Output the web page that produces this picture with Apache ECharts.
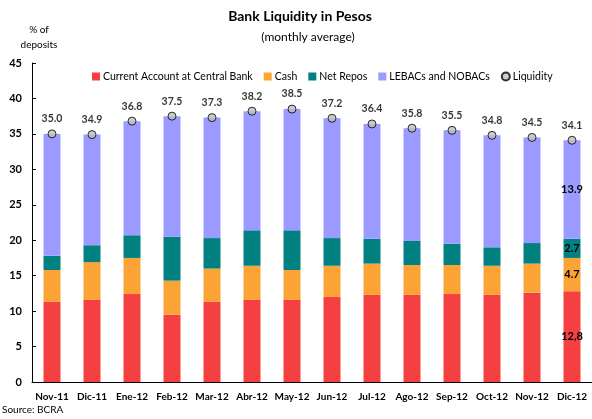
<!DOCTYPE html>
<html>
<head>
<meta charset="utf-8">
<script src="https://cdn.jsdelivr.net/npm/echarts@6/dist/echarts.min.js"></script>
<style>html,body{margin:0;padding:0;background:#fff}#c{width:592px;height:419px}</style>
</head>
<body>
<div id="c"></div>
<script>
const categories = ['Nov-11','Dic-11','Ene-12','Feb-12','Mar-12','Abr-12','May-12','Jun-12','Jul-12','Ago-12','Sep-12','Oct-12','Nov-12','Dic-12'];
const currentAccount = [11.3,11.6,12.4,9.5,11.3,11.6,11.6,12.0,12.3,12.3,12.4,12.3,12.6,12.8];
const cash = [4.5,5.3,5.1,4.8,4.7,4.8,4.2,4.4,4.4,4.2,4.1,4.1,4.1,4.7];
const netRepos = [2.0,2.4,3.2,6.2,4.3,5.0,5.6,3.9,3.5,3.4,3.0,2.6,2.9,2.7];
const lebacs = [17.2,15.6,16.1,17.0,17.0,16.8,17.1,16.9,16.2,15.9,16.0,15.8,14.9,13.9];
const liquidity = [35.0,34.9,36.8,37.5,37.3,38.2,38.5,37.2,36.4,35.8,35.5,34.8,34.5,34.1];
const yTicks = [0,5,10,15,20,25,30,35,40,45];

const FONT = 'Lato';
const last = categories.length - 1;
function lastLabel(fmt) {
  return {
    show: true,
    position: 'inside',
    fontFamily: FONT, fontWeight: 'bold', fontSize: 11, color: '#000',
    formatter: p => p.dataIndex === last ? fmt(p.value) : ''
  };
}
const chart = echarts.init(document.getElementById('c'));
chart.setOption({
  animation: false,
  textStyle: { fontFamily: FONT },
  graphic: [
    { type: 'text', x: 300, y: 9, style: { text: 'Bank Liquidity in Pesos', font: 'bold 14px ' + FONT, fill: '#000', align: 'center', textAlign: 'center' } },
    { type: 'text', x: 308, y: 31, style: { text: '(monthly average)', font: '12px ' + FONT, fill: '#000', align: 'center', textAlign: 'center' } },
    { type: 'text', x: 39, y: 22, style: { text: '% of\ndeposits', font: '10px ' + FONT, fill: '#000', align: 'center', textAlign: 'center', lineHeight: 15 } },
    { type: 'text', x: 2, y: 405, style: { text: 'Source: BCRA', font: '10px ' + FONT, fill: '#000' } }
  ],
  legend: {
    top: 66, left: 87,
    itemWidth: 8, itemHeight: 8, itemGap: 11,
    textStyle: { fontFamily: FONT, fontSize: 10.5, color: '#000', padding: [0,0,0,-2] },
    data: [
      { name: 'Current Account at Central Bank', icon: 'rect' },
      { name: 'Cash', icon: 'rect' },
      { name: 'Net Repos', icon: 'rect' },
      { name: 'LEBACs and NOBACs', icon: 'rect' },
      { name: 'Liquidity', icon: 'circle' }
    ]
  },
  grid: { left: 32, top: 63, width: 564, height: 319 },
  xAxis: {
    type: 'category', data: categories,
    axisLine: { lineStyle: { color: '#000', width: 1 } },
    axisTick: { inside: true, length: 5, lineStyle: { color: '#000' } },
    axisLabel: { fontFamily: FONT, fontWeight: 'bold', fontSize: 10, color: '#000', margin: 10, interval: 0 }
  },
  yAxis: {
    type: 'value', min: 0, max: 45, interval: 5,
    splitLine: { show: false },
    axisLine: { show: true, lineStyle: { color: '#000', width: 1 } },
    axisTick: { show: true, inside: true, length: 4, lineStyle: { color: '#000' } },
    axisLabel: { fontFamily: FONT, fontWeight: 'bold', fontSize: 11, color: '#000', margin: 10,
      formatter: v => yTicks.includes(v) ? String(v) : '' }
  },
  series: [
    { name: 'Current Account at Central Bank', type: 'bar', stack: 'a', barWidth: 17, data: currentAccount,
      itemStyle: { color: '#F44040' }, label: lastLabel(v => v.toFixed(1).replace('.', ',')) },
    { name: 'Cash', type: 'bar', stack: 'a', data: cash,
      itemStyle: { color: '#FCA335' }, label: lastLabel(v => v.toFixed(1)) },
    { name: 'Net Repos', type: 'bar', stack: 'a', data: netRepos,
      itemStyle: { color: '#008080' }, label: lastLabel(v => v.toFixed(1)) },
    { name: 'LEBACs and NOBACs', type: 'bar', stack: 'a', data: lebacs,
      itemStyle: { color: '#9B9BFF' }, label: lastLabel(v => v.toFixed(1)) },
    { name: 'Liquidity', type: 'scatter', data: liquidity, symbol: 'circle', symbolSize: 8, z: 5,
      itemStyle: { color: '#C0C0C0', borderColor: '#000', borderWidth: 1 },
      label: { show: true, position: 'top', distance: 5, fontFamily: FONT, fontWeight: 'bold', fontSize: 10.5, color: '#000',
        formatter: p => p.value.toFixed(1) } }
  ]
});
</script>
</body>
</html>
